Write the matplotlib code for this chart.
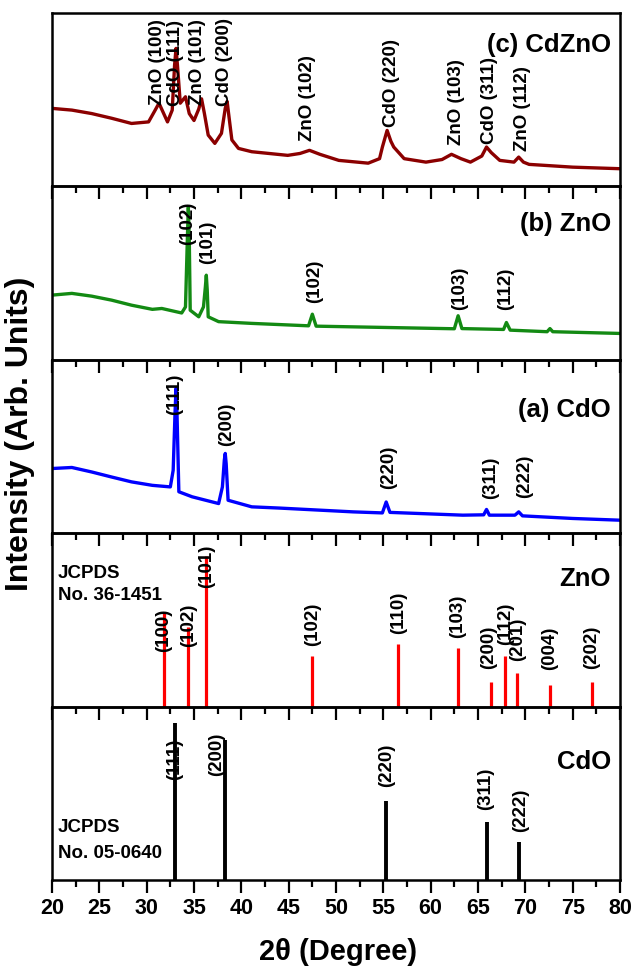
import matplotlib
matplotlib.use("Agg")
import matplotlib.pyplot as plt
import numpy as np

plt.rcParams['font.family'] = ['Liberation Sans', 'DejaVu Sans']
plt.rcParams['font.weight'] = 'bold'

# --- measured XRD curves (2theta, intensity in % of panel height) ---
cdzno_x = [20.0, 22.1, 24.2, 26.3, 28.4, 30.2, 30.9, 31.3, 31.8, 32.2, 32.7, 32.95, 33.1, 33.25,
           33.55, 34.1, 34.5, 35.0, 35.5, 35.8, 36.1, 36.5, 37.2, 37.9, 38.3, 38.5, 38.7, 39.0,
           39.7, 41.1, 44.9, 46.2, 47.2, 48.3, 50.3, 53.4, 54.6, 54.9, 55.4, 55.8, 56.1, 57.2,
           59.5, 61.2, 62.2, 63.2, 64.2, 65.4, 65.9, 66.4, 67.3, 68.8, 69.3, 69.8, 70.4, 75.0,
           80.0]
cdzno_y = [45.0, 44.0, 42.0, 39.3, 36.3, 37.2, 44.0, 48.0, 42.0, 37.2, 44.0, 70.0, 79.6, 70.0,
           48.0, 51.7, 42.0, 38.0, 44.6, 50.5, 42.0, 29.6, 24.8, 30.6, 45.0, 49.0, 40.0, 26.8,
           21.9, 20.0, 17.9, 19.0, 20.8, 18.5, 15.0, 13.4, 16.0, 22.7, 32.3, 26.0, 22.7, 16.0,
           14.0, 15.5, 18.5, 16.0, 14.0, 17.5, 22.7, 19.5, 15.0, 14.0, 16.9, 14.0, 12.7, 11.1,
           10.2]

zno_x = [20.0, 22.1, 24.2, 26.3, 28.4, 30.6, 31.6, 33.7, 34.1, 34.3, 34.4, 34.5, 34.6, 35.5,
         36.0, 36.2, 36.3, 36.4, 36.5, 37.6, 41.1, 47.1, 47.5, 47.9, 55.7, 62.5, 62.9, 63.3,
         67.7, 68.0, 68.4, 72.3, 72.6, 72.9, 80.0]
zno_y = [37.3, 38.3, 36.7, 34.4, 31.5, 29.1, 29.6, 27.0, 30.5, 70.0, 88.0, 70.0, 28.6, 24.8,
         30.5, 42.0, 48.8, 40.0, 24.8, 22.0, 21.0, 19.6, 26.3, 19.4, 18.6, 17.9, 25.4, 18.0,
         17.5, 21.5, 17.1, 16.2, 18.0, 16.2, 15.2]

cdo_x = [20.0, 22.1, 24.2, 26.3, 28.4, 30.6, 32.5, 32.8, 33.0, 33.1, 33.2, 33.4, 34.8, 37.6,
         38.0, 38.2, 38.3, 38.4, 38.6, 41.1, 44.0, 51.8, 54.9, 55.3, 55.7, 63.4, 65.6, 65.9,
         66.2, 68.9, 69.3, 69.7, 75.0, 80.0]
cdo_y = [37.3, 37.9, 35.3, 32.4, 29.6, 27.6, 26.7, 36.3, 70.0, 83.4, 70.0, 23.9, 21.0, 17.1,
         26.7, 42.0, 46.0, 40.0, 19.0, 15.2, 14.5, 12.3, 11.7, 18.0, 12.0, 10.4, 10.6, 13.7,
         10.4, 10.4, 12.3, 10.0, 8.5, 7.5]

# --- JCPDS reference lines ---
zno_ref_pos = [31.8, 34.4, 36.3, 47.5, 56.6, 62.9, 66.4, 67.9, 69.1, 72.6, 77.0]
zno_ref_int = [54, 46, 87, 29, 36, 34, 14, 29, 19.5, 12.7, 14]
zno_ref_lbl = ['(100)', '(102)', '(101)', '(102)', '(110)', '(103)', '(200)', '(112)', '(201)', '(004)', '(202)']
zno_ref_lx = [31.8, 34.4, 36.3, 47.5, 56.6, 62.9, 66.1, 67.9, 69.2, 72.6, 77.0]
zno_ref_ly = [44, 47, 81, 47.6, 54, 52, 34, 48, 38.6, 33.4, 34]

cdo_ref_pos = [33.0, 38.3, 55.3, 65.9, 69.3]
cdo_ref_int = [90.7, 81, 45.6, 33.6, 21.7]
cdo_ref_lbl = ['(111)', '(200)', '(220)', '(311)', '(222)']
cdo_ref_lx = [33.0, 37.4, 55.3, 65.8, 69.5]
cdo_ref_ly = [69.8, 72.7, 66, 52.5, 40]

# --- peak labels on measured patterns ---
cdzno_lbl = ['ZnO (100)', 'CdO (111)', 'ZnO (101)', 'CdO (200)', 'ZnO (102)', 'CdO (220)',
             'ZnO (103)', 'CdO (311)', 'ZnO (112)']
cdzno_lx = [31.1, 33.0, 35.4, 38.2, 47.0, 55.85, 62.7, 66.2, 69.7]
cdzno_ly = [71.5, 71, 71.5, 71.5, 50.7, 59.7, 48.4, 49.6, 45]

zno_lbl = ['(102)', '(101)', '(102)', '(103)', '(112)']
zno_lx = [34.3, 36.4, 47.7, 63.1, 67.9]
zno_ly = [78.7, 68, 45, 41, 41]

cdo_lbl = ['(111)', '(200)', '(220)', '(311)', '(222)']
cdo_lx = [33.0, 38.4, 55.6, 66.3, 69.9]
cdo_ly = [80, 63, 37.8, 32, 32.9]

fig = plt.figure(figsize=(6.35, 9.69), dpi=100)
left, right = 52 / 635, 620 / 635
top, bottom = 1 - 13 / 969, 1 - 880 / 969
h = (top - bottom) / 5
axes = []
for i in range(5):
    ax = fig.add_axes([left, top - (i + 1) * h, right - left, h])
    ax.patch.set_alpha(0)
    axes.append(ax)

def style(ax, last):
    ax.set_xlim(20, 80)
    ax.set_ylim(0, 100)
    ax.set_yticks([])
    ax.set_xticks(np.arange(20, 81, 5))
    ax.set_xticks(np.arange(22.5, 80, 5), minor=True)
    ax.tick_params(axis='x', which='major', direction='out', length=9, width=1.6,
                   labelsize=15.5, pad=4, labelbottom=last)
    ax.tick_params(axis='x', which='minor', direction='out', length=5, width=1.6)
    for s in ax.spines.values():
        s.set_linewidth(1.8)
    for t in ax.get_xticklabels():
        t.set_fontweight('bold')

def side_label(ax, txt, yc, fs=18.5):
    ax.text(0.984, yc, txt, transform=ax.transAxes, ha='right', va='center',
            fontsize=fs, fontweight='bold')

def peak_labels(ax, xs, ys, labels, fs=13.5):
    for x, y, t in zip(xs, ys, labels):
        ax.text(x, y, t, rotation=90, ha='center', va='center', fontsize=fs, fontweight='bold')

# (c) CdZnO
ax = axes[0]
ax.plot(cdzno_x, cdzno_y, color='#8b0000', lw=2.4)
peak_labels(ax, cdzno_lx, cdzno_ly, cdzno_lbl, fs=13.5)
side_label(ax, '(c) CdZnO', (186 - 45) / 173.4)
style(ax, False)

# (b) ZnO
ax = axes[1]
ax.plot(zno_x, zno_y, color='#138a13', lw=2.4)
peak_labels(ax, zno_lx, zno_ly, zno_lbl)
side_label(ax, '(b) ZnO', (359 - 223) / 173.4)
style(ax, False)

# (a) CdO
ax = axes[2]
ax.plot(cdo_x, cdo_y, color='#0000ff', lw=2.4)
peak_labels(ax, cdo_lx, cdo_ly, cdo_lbl)
side_label(ax, '(a) CdO', (533 - 410) / 173.4)
style(ax, False)

# ZnO reference
ax = axes[3]
ax.vlines(zno_ref_pos, 0, zno_ref_int, color='#ff0000', lw=2.3)
peak_labels(ax, zno_ref_lx, zno_ref_ly, zno_ref_lbl)
side_label(ax, 'ZnO', (706 - 578) / 173.4)
ax.text(0.01, (706 - 573) / 173.4, 'JCPDS', transform=ax.transAxes, ha='left', va='center',
        fontsize=13.5, fontweight='bold')
ax.text(0.01, (706 - 595) / 173.4, 'No. 36-1451', transform=ax.transAxes, ha='left', va='center',
        fontsize=13.5, fontweight='bold')
style(ax, False)

# CdO reference
ax = axes[4]
ax.vlines(cdo_ref_pos, 0, cdo_ref_int, color='black', lw=2.8)
peak_labels(ax, cdo_ref_lx, cdo_ref_ly, cdo_ref_lbl)
side_label(ax, 'CdO', (880 - 762) / 173.4)
ax.text(0.01, (880 - 828) / 173.4, 'JCPDS', transform=ax.transAxes, ha='left', va='center',
        fontsize=13.5, fontweight='bold')
ax.text(0.01, (880 - 854) / 173.4, 'No. 05-0640', transform=ax.transAxes, ha='left', va='center',
        fontsize=13.5, fontweight='bold')
style(ax, True)

fig.text(20 / 635, 1 - 434 / 969, 'Intensity (Arb. Units)', rotation=90, ha='center', va='center',
         fontsize=23, fontweight='bold')
fig.text(338 / 635, 1 - 952 / 969, '2θ (Degree)', ha='center', va='center',
         fontsize=21, fontweight='bold')

fig.savefig('out.png', dpi=100)
